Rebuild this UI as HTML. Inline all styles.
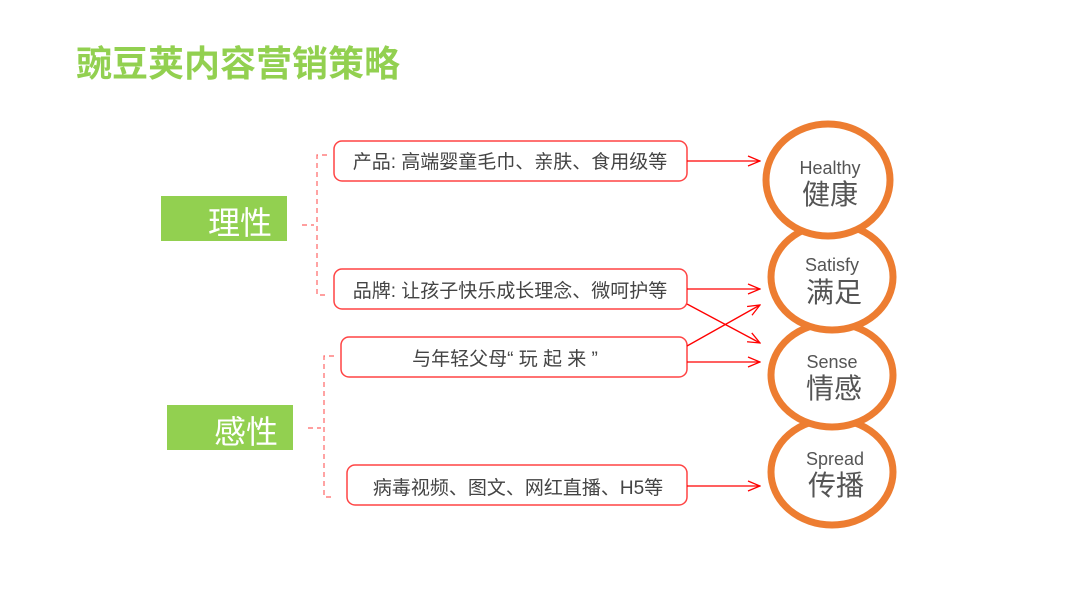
<!DOCTYPE html>
<html><head><meta charset="utf-8"><style>
body{margin:0;width:1067px;height:600px;background:#fff;overflow:hidden;font-family:"Liberation Sans","Noto Sans CJK SC",sans-serif}
</style></head><body>
<svg width="1067" height="600" xmlns="http://www.w3.org/2000/svg" style="position:absolute;left:0;top:0">
<defs><marker id="a" markerWidth="14" markerHeight="12" refX="13" refY="6" orient="auto" markerUnits="userSpaceOnUse"><path d="M1,1 L13,6 L1,11" fill="none" stroke="#f00" stroke-width="1.3"/></marker></defs>
<text x="76" y="76" font-size="36" font-weight="bold" fill="#92D050" font-family="Noto Sans CJK SC,sans-serif">豌豆荚内容营销策略</text>
<rect x="161" y="196" width="126" height="45" fill="#92D050"/>
<text x="240" y="234" font-size="32" fill="#fff" text-anchor="middle" font-family="Noto Sans CJK SC,sans-serif">理性</text>
<rect x="167" y="405" width="126" height="45" fill="#92D050"/>
<text x="246" y="443" font-size="32" fill="#fff" text-anchor="middle" font-family="Noto Sans CJK SC,sans-serif">感性</text>
<g stroke="#f66" stroke-width="1.2" fill="none" stroke-dasharray="5,4">
<path d="M327,155 L317,155 L317,295 L327,295"/><path d="M302,225 L314,225"/>
<path d="M334,356 L324,356 L324,497 L334,497"/><path d="M308,428 L321,428"/>
</g>
<g fill="#fff" stroke="#f44" stroke-width="1.5">
<rect x="334" y="141" width="353" height="40" rx="8"/>
<rect x="334" y="269" width="353" height="40" rx="8"/>
<rect x="341" y="337" width="346" height="40" rx="8"/>
<rect x="347" y="465" width="340" height="40" rx="8"/>
</g>
<g font-size="19" fill="#444" text-anchor="middle" font-family="Liberation Sans,Noto Sans CJK SC,sans-serif">
<text x="510" y="168">产品: 高端婴童毛巾、亲肤、食用级等</text>
<text x="510" y="297">品牌: 让孩子快乐成长理念、微呵护等</text>
<text x="505" y="365" xml:space="preserve">与年轻父母“ 玩 起 来 ”</text>
<text x="518" y="494">病毒视频、图文、网红直播、H5等</text>
</g>
<g stroke="#f00" stroke-width="1.3" marker-end="url(#a)">
<line x1="687" y1="161" x2="760" y2="161"/>
<line x1="687" y1="289" x2="760" y2="289"/>
<line x1="687" y1="304" x2="760" y2="343"/>
<line x1="687" y1="346" x2="760" y2="305"/>
<line x1="687" y1="362" x2="760" y2="362"/>
<line x1="687" y1="486" x2="760" y2="486"/>
</g>
<g fill="#fff" stroke="#ED7D31" stroke-width="7">
<ellipse cx="832" cy="472" rx="61" ry="53"/>
<ellipse cx="832" cy="375" rx="61" ry="52"/>
<ellipse cx="832" cy="277" rx="61" ry="53"/>
<ellipse cx="828" cy="180" rx="62" ry="56"/>
</g>
<g fill="#555" text-anchor="middle" font-family="Liberation Sans,Noto Sans CJK SC,sans-serif">
<text x="830" y="174" font-size="18">Healthy</text><text x="830" y="204" font-size="28">健康</text>
<text x="832" y="271" font-size="18">Satisfy</text><text x="834" y="302" font-size="28">满足</text>
<text x="832" y="368" font-size="18">Sense</text><text x="834" y="398" font-size="28">情感</text>
<text x="835" y="465" font-size="18">Spread</text><text x="836" y="495" font-size="28">传播</text>
</g>
</svg>
</body></html>
